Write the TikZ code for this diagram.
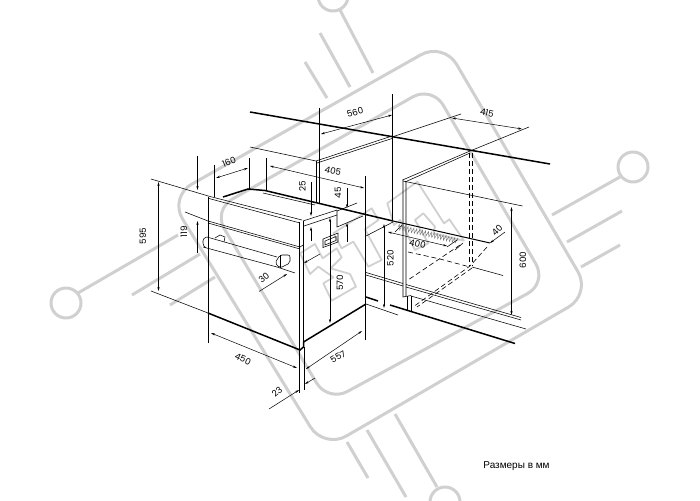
\documentclass[tikz,border=0pt]{standalone}
\usepackage{fontspec}
\setmainfont{Poppins}
\newfontfamily\notefont{Liberation Sans}
\usetikzlibrary{arrows.meta,decorations.pathmorphing}
\definecolor{stampgray}{HTML}{D0D0D0}
\tikzset{
  thinline/.style={line width=0.55pt,black},
  thickline/.style={line width=1.5pt,black},
  dimline/.style={line width=0.5pt,black},
  dashline/.style={line width=0.6pt,black,dash pattern=on 5pt off 3pt},
  stamp/.style={line width=3pt,stampgray,line join=round},
  letterline/.style={line width=1.8pt,stampgray,line join=round},
  dimlabel/.style={font=\fontsize{8.8}{10}\selectfont,inner sep=0pt},
  >={Stealth[length=4pt,width=2.2pt]}
}
\begin{document}
\begin{tikzpicture}[x=1pt,y=-1pt]
\useasboundingbox (0,0) rectangle (700,500);
% watermark
\draw[stamp,rounded corners=26pt] (443.5,42) -- (591,294) -- (324,449) -- (169,197) -- cycle;
\draw[stamp,rounded corners=22pt] (432,86) -- (547,283) -- (328,402) -- (213,210) -- cycle;
\foreach \cx/\cy/\ax/\ay/\bx/\by in {
    333/-4/340/10/373/73,
    633/167/620/177/552/215,
    66/303/78/293/178/235,
    445/502/437/487/395/414} {
  \draw[stamp] (\cx,\cy) circle (15);
  \draw[stamp] (\ax,\ay) -- (\bx,\by);
}
\foreach \ax/\ay/\bx/\by in {
    320/33/350/87, 305/62/327/98, 622/211/567/242, 620/245/581/267,
    132/295/200/254, 170/305/215/277, 367/430/406/497, 347/442/368/478} {
  \draw[stamp] (\ax,\ay) -- (\bx,\by);
}
\begin{scope}[shift={(300,170)},x=0.3333pt,y=-0.3333pt]
  \draw[letterline] (0,250) -- (45,222) -- (68,265) -- (110,235) -- (125,262) -- (92,295)
    -- (150,312) -- (168,350) -- (95,392) -- (70,340) -- (100,322) -- (55,290) -- (30,312) -- cycle;
  \draw[letterline] (100,190) -- (215,115) -- (235,150) -- (195,178) -- (245,270)
    -- (205,290) -- (160,215) -- (125,235) -- cycle;
  \draw[letterline] (262,100) -- (352,35) -- (432,160) -- (448,148) -- (492,212) -- (400,190)
    -- (405,170) -- (370,130) -- (345,150) -- (385,220) -- (345,240) -- (300,150) -- (282,165) -- cycle;
\end{scope}
% niche
\draw[thickline] (250,112) -- (550,164);
\draw[thinline] (250,147) -- (316,161);
\draw[thinline] (316,161) -- (392,136) (317,163) -- (392,138.5);
\draw[thinline] (392,94) -- (392,221);
\draw[thinline] (319,108) -- (319,203) (316,161) -- (316,203);
\draw[thinline] (392,137) -- (461,114) (470,151) -- (529,127);
\draw[thinline] (470,151) -- (402.5,180) (470,153) -- (405,182);
\draw[thinline] (403,181) -- (522.5,206);
\draw[thinline] (403,180) -- (403,297) -- (411,295.5) (406,181) -- (406,296);
\draw[thinline] (407,296) -- (407,310) (411,295.5) -- (411,312);
\draw[dashline] (469,153) -- (469,266) (472.5,153) -- (472.5,266);
\draw[thinline] (472,267) -- (503,275.5);
% shelf
\draw[thickline,line width=1pt] (393,221) -- (490,243);
\draw[thinline] (366,236) -- (393,222) (395,232) -- (402,225);
\draw[line width=0.45pt,black!55,decorate,decoration={zigzag,segment length=3pt,amplitude=2.5pt}] (398,227) -- (458,241);
\draw[thinline] (447,247) -- (457,240) (455,250) -- (463,243);
\draw[dashline] (408,252) -- (440,259) -- (470,267) (460,245) -- (408,280);
\draw[dashline] (487,247) -- (470,266) -- (413,307) (472,268) -- (417,307);
% lower rails
\draw[thinline] (366,272.5) -- (403,283.5) (406,284.5) -- (521,317.5) (366,275) -- (403,286) (406,287) -- (521,320);
\draw[thinline] (411,296) -- (526,329);
\draw[thickline] (366,297) -- (378,301) (390,305) -- (515,343.5);
\draw[thinline] (366,304) -- (398,315);
\draw[thinline] (365.5,176) -- (365.5,340);
% oven body
\draw[thickline,line width=1pt] (208,197) -- (208,313);
\draw[thickline] (208,313) -- (300,350) -- (303.5,347) -- (303.5,342) -- (366,304);
\draw[thinline] (151,179) -- (210,196.5) -- (302,220);
\draw[thinline] (209,198.5) -- (300,223);
\draw[thinline] (185,212) -- (208,221) -- (300,247) -- (303,245) (208,223) -- (300,249);
\draw[thinline] (151,291) -- (208,313);
\draw[thinline] (208,313) -- (208,343);
\draw[thinline] (299.5,222) -- (299.5,393) (303.5,221) -- (303.5,342) (304,347) -- (304,390);
\draw[thinline] (303,221) -- (337,210) (304,226) -- (337,215);
\draw[thinline] (337,210) -- (337,227) -- (363,216);
\draw[thinline] (337,211) -- (357,203);
\draw[thickline] (223,197) -- (248,189) -- (265,190.5);
\draw[thickline] (265,190.5) -- (393,221);
\draw[thinline] (263,193) -- (315,205);
\draw[thinline] (214.5,165) -- (214.5,197) (249.5,158) -- (249.5,189) (266.5,158) -- (266.5,190);
% handle
\draw[thinline] (203,247) -- (277,267) (207,237) -- (277,257);
\draw[thinline,rounded corners=3pt] (207,237) -- (203,238) -- (203,246) -- (206,248);
\draw[thinline,rounded corners=2pt] (275,263) -- (280,255) -- (290,255) -- (290,263) -- (280,268) -- cycle;
\draw[thinline] (280,255) -- (280,268);
\draw[thinline] (215,238) -- (220,235) -- (225,237) -- (224,242);
% display
\draw[thinline] (323,239) -- (338,233) -- (338,242) -- (323,247.5) -- cycle;
\draw[thinline] (325,241) -- (336,236.5) -- (336,240.5) -- (325,245) -- cycle;
% dimensions
\foreach \ax/\ay/\bx/\by in {
    321/134/392/115, 452/118/522/129, 511.5/207/511.5/315, 388/232/447/246,
    384/224/384/308, 270/166/364/188, 216/178/248/168, 158.5/182/158.5/291,
    330/218/330/323, 211/333/297/368, 306/369/362/331} {
  \draw[dimline,<->] (\ax,\ay) -- (\bx,\by);
}
\foreach \ax/\ay/\bx/\by in {
    197.5/156/197.5/190, 197.5/253/197.5/221, 311/182/311/216, 311/241/311/227,
    347/188/347/208, 347/242/347/223, 259/291.5/287/274, 320/254/304/263,
    269/409/299/390, 315/378/305/384, 505/232/490/243} {
  \draw[dimline,->] (\ax,\ay) -- (\bx,\by);
}
\draw[dimline] (277,267) -- (295,273);
% labels
\foreach \x/\y/\r/\t in {
    355/112.5/15/560, 487/113/-12/415, 333/171/-13/405, 229/162/22/160,
    143/236/90/595, 184/232/90/119, 302.5/186/90/25, 338/193/90/45,
    340/283/90/570, 390.5/258/90/520, 523/260/90/600, 417.5/244/-12/400,
    497/230/45/40, 264/278/40/30, 243/359/-25/450, 338/357/30/557, 277/392/40/23} {
  \node[dimlabel,rotate=\r] (lbl\t) at (\x,\y) {\t};
}
\node[inner sep=0pt,font=\notefont\fontsize{10}{10}\selectfont] (note) at (516.5,466) {Размеры в мм};
\end{tikzpicture}
\end{document}
